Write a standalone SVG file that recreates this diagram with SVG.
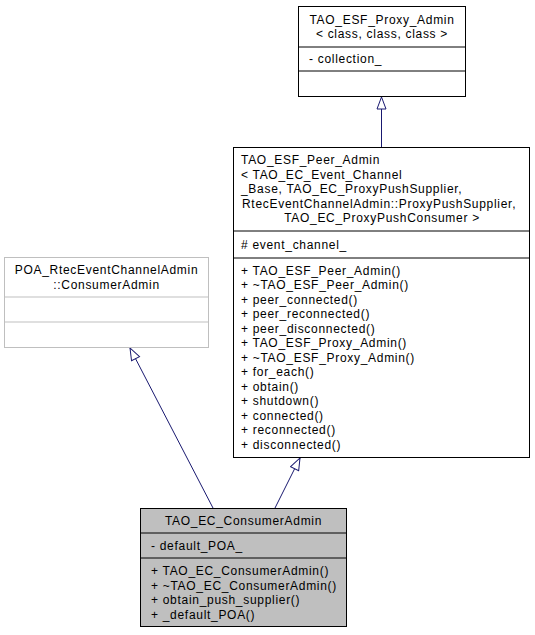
<svg xmlns="http://www.w3.org/2000/svg" width="535" height="635" viewBox="0 0 535 635">
<style>
  text { font-family: "Liberation Sans", Arial, sans-serif; font-size: 12px; letter-spacing: 0.7px; fill: #000; }
  .c { text-anchor: middle; }
  .box { fill: #fff; stroke: #000; stroke-width: 1; }
  .gbox { fill: #fff; stroke: #bfbfbf; stroke-width: 1; }
  .cur { fill: #bfbfbf; stroke: #000; stroke-width: 1; }
  .sep { stroke: #000; stroke-width: 1; }
  .gsep { stroke: #bfbfbf; stroke-width: 1; }
  .edge { stroke: #191970; stroke-width: 1; fill: none; marker-end: url(#inh); }
</style>
<defs>
  <marker id="inh" viewBox="0 0 14 11" refX="13" refY="5.5" markerWidth="14" markerHeight="11" markerUnits="userSpaceOnUse" orient="auto">
    <path d="M1,1 L13,5.5 L1,10 Z" fill="#fff" stroke="#191970" stroke-width="1"/>
  </marker>
</defs>

<g id="connectors">
  <path class="edge" d="M381.5,147 L381.5,97"/>
  <path class="edge" d="M213,508 L130,348"/>
  <path class="edge" d="M275,508 L300,458"/>
</g>

<g id="TAO_ESF_Proxy_Admin">
  <rect class="box" x="298.5" y="6.5" width="167" height="90"/>
  <line class="sep" x1="298.5" y1="47" x2="465.5" y2="47"/>
  <line class="sep" x1="298.5" y1="71" x2="465.5" y2="71"/>
  <text class="c" x="382" y="23.5">TAO_ESF_Proxy_Admin</text>
  <text class="c" x="382" y="38">&lt; class, class, class &gt;</text>
  <text x="309" y="63">- collection_</text>
</g>

<g id="TAO_ESF_Peer_Admin">
  <rect class="box" x="233.5" y="147.5" width="296" height="310"/>
  <line class="sep" x1="233.5" y1="231" x2="529.5" y2="231"/>
  <line class="sep" x1="233.5" y1="258" x2="529.5" y2="258"/>
  <text x="241" y="164.3">TAO_ESF_Peer_Admin</text>
  <text x="241" y="178.8">&lt; TAO_EC_Event_Channel</text>
  <text x="241" y="193.3">_Base, TAO_EC_ProxyPushSupplier,</text>
  <text x="242" y="207.8">RtecEventChannelAdmin::ProxyPushSupplier,</text>
  <text class="c" x="382" y="222.3">TAO_EC_ProxyPushConsumer &gt;</text>
  <text x="241" y="248.8"># event_channel_</text>
  <text x="241" y="274.8">+ TAO_ESF_Peer_Admin()</text>
  <text x="241" y="289.3">+ ~TAO_ESF_Peer_Admin()</text>
  <text x="241" y="303.8">+ peer_connected()</text>
  <text x="241" y="318.3">+ peer_reconnected()</text>
  <text x="241" y="332.8">+ peer_disconnected()</text>
  <text x="241" y="347.3">+ TAO_ESF_Proxy_Admin()</text>
  <text x="241" y="361.8">+ ~TAO_ESF_Proxy_Admin()</text>
  <text x="241" y="376.3">+ for_each()</text>
  <text x="241" y="390.8">+ obtain()</text>
  <text x="241" y="405.3">+ shutdown()</text>
  <text x="241" y="419.8">+ connected()</text>
  <text x="241" y="434.3">+ reconnected()</text>
  <text x="241" y="448.8">+ disconnected()</text>
</g>

<g id="POA_RtecEventChannelAdmin_ConsumerAdmin">
  <rect class="gbox" x="4.5" y="257.5" width="204" height="90"/>
  <line class="gsep" x1="4.5" y1="297" x2="208.5" y2="297"/>
  <line class="gsep" x1="4.5" y1="322" x2="208.5" y2="322"/>
  <text class="c" x="106.5" y="274">POA_RtecEventChannelAdmin</text>
  <text class="c" x="106.5" y="288.5">::ConsumerAdmin</text>
</g>

<g id="TAO_EC_ConsumerAdmin">
  <rect class="cur" x="140.5" y="508.5" width="206" height="118"/>
  <line class="sep" x1="140.5" y1="533" x2="346.5" y2="533"/>
  <line class="sep" x1="140.5" y1="558" x2="346.5" y2="558"/>
  <text class="c" x="243.5" y="525">TAO_EC_ConsumerAdmin</text>
  <text x="151" y="550">- default_POA_</text>
  <text x="151" y="575">+ TAO_EC_ConsumerAdmin()</text>
  <text x="151" y="589.5">+ ~TAO_EC_ConsumerAdmin()</text>
  <text x="151" y="604">+ obtain_push_supplier()</text>
  <text x="151" y="618.5">+ _default_POA()</text>
</g>
</svg>
